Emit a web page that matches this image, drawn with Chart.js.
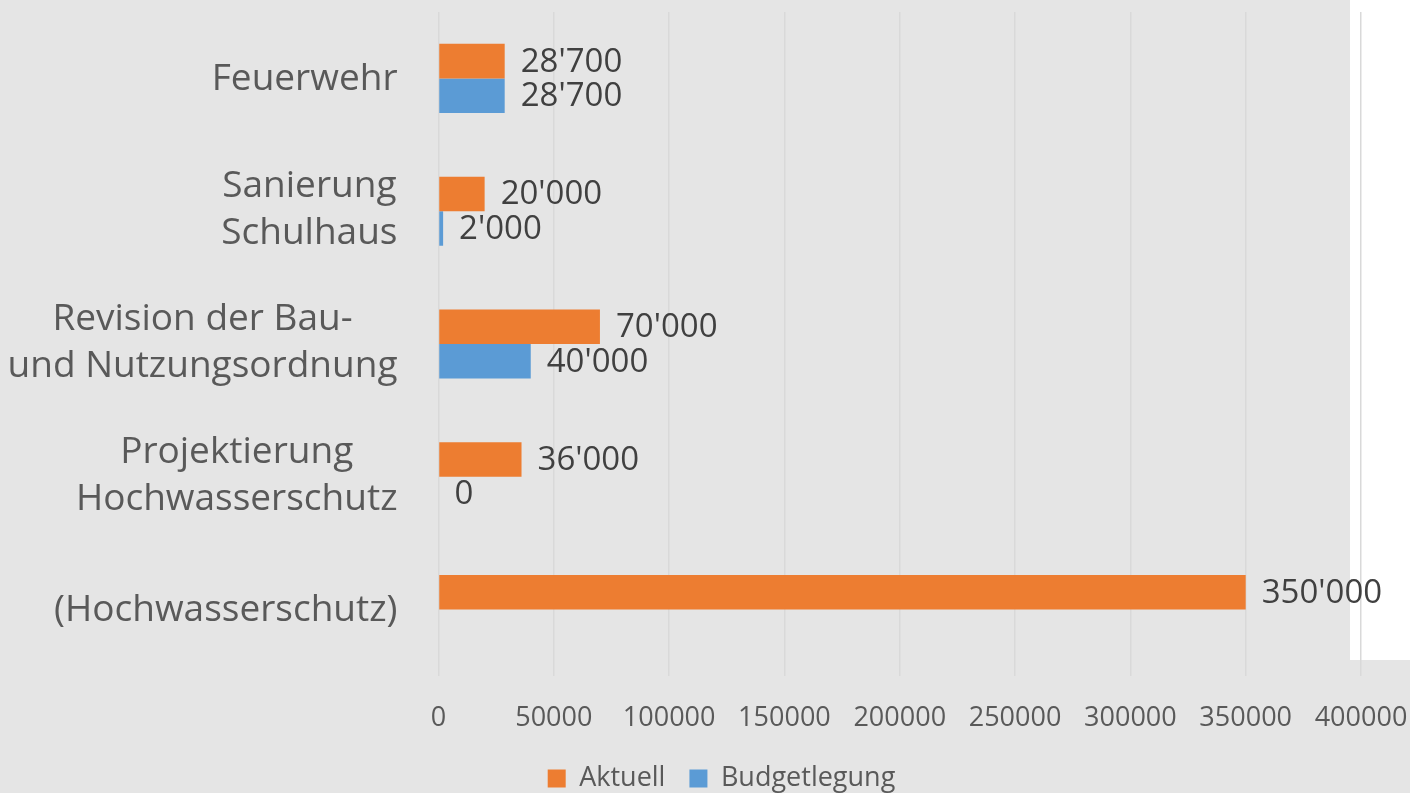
<!DOCTYPE html>
<html>
<head>
<meta charset="utf-8">
<script src="https://cdn.jsdelivr.net/npm/chart.js@4/dist/chart.umd.min.js"></script>
<style>
  html, body { margin: 0; padding: 0; overflow: hidden; background: #e5e5e5; }
  #wrap { width: 1410px; height: 802px; position: relative; }
</style>
</head>
<body>
<div id="wrap"><canvas id="c"></canvas></div>
<script>
const categories = [
  ['Feuerwehr'],
  ['Sanierung', 'Schulhaus'],
  ['Revision der Bau-', 'und Nutzungsordnung'],
  ['Projektierung', 'Hochwasserschutz'],
  ['(Hochwasserschutz)']
];
const seriesNames = ['Aktuell', 'Budgetlegung'];
const aktuell = [28700, 20000, 70000, 36000, 350000];
const budgetlegung = [28700, 2000, 40000, 0, null];
const xTicks = [0, 50000, 100000, 150000, 200000, 250000, 300000, 350000, 400000];

const FONT = '"Open Sans", "Noto Sans", sans-serif';

function fmt(v) {
  return String(v).replace(/\B(?=(\d{3})+(?!\d))/g, "'");
}

const backgroundPlugin = {
  id: 'bg',
  beforeDraw(chart) {
    const ctx = chart.ctx;
    ctx.save();
    ctx.fillStyle = '#e5e5e5';
    ctx.fillRect(0, 0, chart.width, chart.height);
    ctx.fillStyle = '#ffffff';
    ctx.fillRect(1350, 0, chart.width - 1350, 660);
    ctx.restore();
  }
};

const labelsPlugin = {
  id: 'labels',
  afterDatasetsDraw(chart) {
    const ctx = chart.ctx;
    ctx.save();
    // data labels
    ctx.font = '33px ' + FONT;
    ctx.fillStyle = '#404040';
    ctx.textAlign = 'left';
    ctx.textBaseline = 'middle';
    chart.data.datasets.forEach((ds, di) => {
      const meta = chart.getDatasetMeta(di);
      meta.data.forEach((bar, i) => {
        const v = ds.data[i];
        if (v === null || v === undefined) return;
        ctx.fillText(fmt(v), bar.x + 16, bar.y + 1);
      });
    });
    // category labels (lines centred on each other, block right aligned)
    const yScale = chart.scales.y;
    const right = chart.chartArea.left - 41;
    const lh = 47;
    ctx.font = '37px ' + FONT;
    ctx.fillStyle = '#595959';
    ctx.textAlign = 'center';
    categories.forEach((lines, i) => {
      const cy = yScale.getPixelForValue(i);
      let maxW = 0;
      lines.forEach(l => { maxW = Math.max(maxW, ctx.measureText(l).width); });
      const cx = right - maxW / 2;
      const n = lines.length;
      lines.forEach((l, j) => {
        const y = cy + (j - (n - 1) / 2) * lh - (n > 1 ? 2 : 0);
        ctx.fillText(l, cx, y + 1);
      });
    });
    ctx.restore();
  }
};

new Chart(document.getElementById('c'), {
  type: 'bar',
  data: {
    labels: categories,
    datasets: [
      { label: seriesNames[0], data: aktuell, backgroundColor: '#ed7d31', borderWidth: 0,
        categoryPercentage: 0.52, barPercentage: 1 },
      { label: seriesNames[1], data: budgetlegung, backgroundColor: '#5b9bd5', borderWidth: 0,
        categoryPercentage: 0.52, barPercentage: 1 }
    ]
  },
  options: {
    indexAxis: 'y',
    responsive: true,
    maintainAspectRatio: false,
    animation: false,
    layout: { padding: { left: 82, right: 49, top: 12, bottom: 0 } },
    scales: {
      x: {
        type: 'linear',
        min: 0,
        max: 400000,
        afterBuildTicks(scale) { scale.ticks = xTicks.map(v => ({ value: v })); },
        afterFit(scale) {
          scale.height = 65;
          scale.paddingLeft = 0;
          scale.paddingRight = 0;
        },
        grid: { color: '#d9d9d9', lineWidth: 1.5, drawTicks: false },
        border: { display: false },
        ticks: {
          padding: 26,
          color: '#595959',
          font: { family: FONT, size: 27 },
          maxRotation: 0,
          autoSkip: false,
          callback: (v) => String(v)
        }
      },
      y: {
        type: 'category',
        offset: true,
        grid: { display: false, drawTicks: false },
        border: { display: false },
        ticks: { display: false },
        afterFit(scale) { scale.width = 438.5 - 82; }
      }
    },
    plugins: {
      legend: {
        position: 'bottom',
        labels: {
          boxWidth: 18,
          boxHeight: 18,
          padding: 24,
          color: '#595959',
          font: { family: FONT, size: 27 }
        }
      },
      tooltip: { enabled: false }
    }
  },
  plugins: [backgroundPlugin, labelsPlugin]
});
</script>
</body>
</html>
